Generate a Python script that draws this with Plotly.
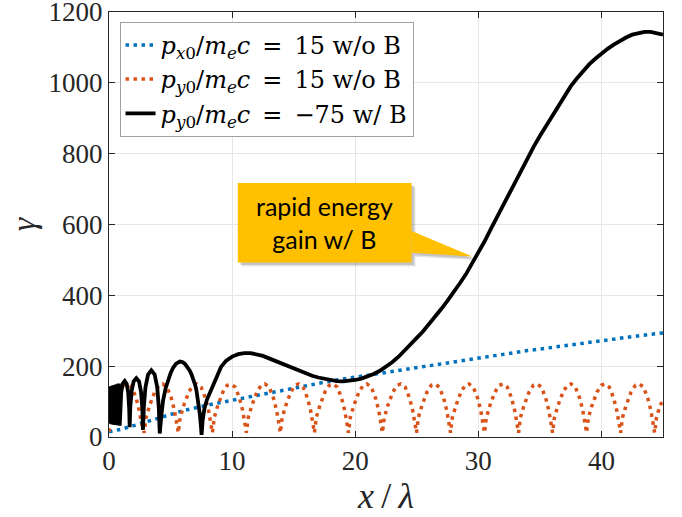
import plotly.graph_objects as go

# ---- electron energy vs. propagation distance ----
# p_x0 = 15, no B field
x_px = [0, 1, 2, 3, 4, 5, 6, 8, 10, 12, 14, 16, 18, 20, 22, 24, 26, 28, 30,
        32, 34, 36, 38, 40, 42, 44, 45]
g_px = [15, 22, 32, 42, 52, 63, 74, 90, 104, 118, 132, 146, 158, 169, 180, 191,
        202, 213, 224, 234, 244, 253, 263, 272, 281, 290, 294]

# p_y0 = 15, no B field (one row per oscillation arch)
x_py_arches = [
    [0.00, 0.15, 0.45, 0.85, 1.20, 1.50, 1.85, 2.20, 2.45, 2.62],
    [2.86, 3.01, 3.31, 3.71, 4.06, 4.36, 4.71, 5.06, 5.31, 5.48],
    [5.63, 5.78, 6.08, 6.48, 6.83, 7.13, 7.48, 7.83, 8.08, 8.25],
    [8.40, 8.55, 8.85, 9.25, 9.60, 9.90, 10.25, 10.60, 10.85, 11.02],
    [11.16, 11.31, 11.61, 12.01, 12.36, 12.66, 13.01, 13.36, 13.61, 13.78],
    [13.92, 14.07, 14.37, 14.77, 15.12, 15.42, 15.77, 16.12, 16.37, 16.54],
    [16.69, 16.84, 17.14, 17.54, 17.89, 18.19, 18.54, 18.89, 19.14, 19.31],
    [19.45, 19.60, 19.90, 20.30, 20.65, 20.95, 21.30, 21.65, 21.90, 22.07],
    [22.21, 22.36, 22.66, 23.06, 23.41, 23.71, 24.06, 24.41, 24.66, 24.83],
    [24.98, 25.13, 25.43, 25.83, 26.18, 26.48, 26.83, 27.18, 27.43, 27.60],
    [27.74, 27.89, 28.19, 28.59, 28.94, 29.24, 29.59, 29.94, 30.19, 30.36],
    [30.50, 30.65, 30.95, 31.35, 31.70, 32.00, 32.35, 32.70, 32.95, 33.12],
    [33.27, 33.42, 33.72, 34.12, 34.47, 34.77, 35.12, 35.47, 35.72, 35.89],
    [36.03, 36.18, 36.48, 36.88, 37.23, 37.53, 37.88, 38.23, 38.48, 38.65],
    [38.79, 38.94, 39.24, 39.64, 39.99, 40.29, 40.64, 40.99, 41.24, 41.41],
    [41.56, 41.71, 42.01, 42.41, 42.76, 43.06, 43.41, 43.76, 44.01, 44.18],
    [44.32, 44.47, 44.77, 45.00],
]
g_py_arches = [
    [15, 55, 90, 127, 146, 150, 141, 110, 76, 42],
    [12, 55, 90, 127, 146, 150, 141, 110, 76, 42],
    [12, 55, 90, 127, 146, 150, 141, 110, 76, 42],
    [12, 55, 90, 127, 146, 149, 141, 110, 76, 42],
    [12, 55, 90, 127, 146, 150, 141, 110, 76, 42],
    [12, 55, 90, 127, 146, 150, 141, 110, 76, 42],
    [12, 55, 90, 127, 146, 150, 141, 110, 76, 42],
    [12, 55, 90, 127, 146, 150, 141, 110, 76, 42],
    [12, 55, 90, 127, 146, 150, 141, 110, 76, 42],
    [12, 55, 90, 127, 146, 150, 141, 110, 76, 42],
    [12, 55, 90, 127, 146, 150, 141, 110, 76, 42],
    [12, 55, 90, 127, 146, 150, 141, 110, 76, 42],
    [12, 55, 90, 127, 146, 150, 141, 110, 76, 42],
    [12, 55, 90, 127, 146, 150, 141, 110, 76, 42],
    [12, 55, 90, 127, 146, 150, 141, 110, 76, 42],
    [12, 55, 90, 127, 146, 150, 141, 110, 76, 42],
    [12, 55, 90, 103],
]

# p_y0 = -75, with B field
x_b = [0.00, 0.05, 0.10, 0.16, 0.22, 0.29, 0.36, 0.44, 0.52, 0.60, 0.69, 0.78,
       0.87, 0.91, 0.99, 1.11, 1.28, 1.44, 1.56, 1.64,
       1.68, 1.73, 1.84, 2.00, 2.22, 2.44, 2.60, 2.71,
       2.76, 2.83, 2.96, 3.17, 3.44, 3.71, 3.92, 4.05,
       4.12, 4.25, 4.39, 4.60, 4.80, 5.00, 5.20, 5.45, 5.75, 6.00, 6.20, 6.40,
       6.56, 6.70, 6.85, 7.00, 7.10, 7.20, 7.30, 7.38, 7.45,
       7.52, 7.60, 7.75, 7.95, 8.20, 8.50, 8.80, 9.10, 9.50, 10.00, 10.50,
       11.00, 11.50, 12.00, 12.50, 13.00, 13.50, 14.00, 14.50, 15.00, 15.50,
       16.00, 16.50, 17.00, 17.50, 18.00, 18.50, 19.00, 19.50, 20.00, 20.50,
       21.00, 21.50, 22.00, 22.50, 23.00, 23.50, 24.00, 24.50, 25.00, 25.50,
       26.00, 26.50, 27.00, 27.50, 28.00, 28.50, 29.00, 29.50, 30.00, 30.50,
       31.00, 31.50, 32.00, 32.50, 33.00, 33.50, 34.00, 34.50, 35.00, 35.50,
       36.00, 36.50, 37.00, 37.50, 38.00, 38.50, 39.00, 39.50, 40.00, 40.50,
       41.00, 41.50, 42.00, 42.50, 43.00, 43.50, 44.00, 44.50, 45.00]
g_b = [76, 140, 38, 143, 36, 145, 35, 147, 34, 149, 33, 151,
       32, 85, 125, 150, 158, 150, 125, 80,
       28, 85, 130, 157, 166, 157, 128, 80,
       20, 85, 140, 176, 188, 176, 140, 80,
       10, 60, 103, 138, 160, 180, 195, 207, 213, 211, 205, 196,
       187, 177, 164, 147, 132, 113, 88, 64, 38,
       6, 45, 80, 105, 125, 150, 178, 198, 215, 227, 234,
       237, 237, 234, 229, 222, 215, 208, 200, 193, 186,
       179, 173, 168, 164, 160, 158, 157, 158, 161, 165,
       171, 178, 187, 198, 211, 226, 243, 262, 280, 298,
       318, 340, 362, 385, 408, 434, 460, 490, 520, 552,
       586, 620, 655, 690, 724, 757, 790, 820, 850, 878,
       908, 937, 964, 990, 1012, 1033, 1052, 1068, 1083, 1096,
       1108, 1119, 1128, 1136, 1141, 1144, 1144, 1140, 1136]

x_py = [v for row in x_py_arches for v in row]
g_py = [v for row in g_py_arches for v in row]

EQ = "\u2002=\u2002"
labels = [
    f"<i>p</i><sub><i>x</i>0</sub>/<i>m</i><sub><i>e</i></sub><i>c</i>{EQ}15 w/o B",
    f"<i>p</i><sub><i>y</i>0</sub>/<i>m</i><sub><i>e</i></sub><i>c</i>{EQ}15 w/o B",
    f"<i>p</i><sub><i>y</i>0</sub>/<i>m</i><sub><i>e</i></sub><i>c</i>{EQ}\u221275 w/ B",
]
x_ticks = [0, 10, 20, 30, 40]
y_ticks = [0, 200, 400, 600, 800, 1000, 1200]

BLUE = "#0072BD"
ORANGE = "#D95319"
SERIF = "Liberation Serif, Times New Roman, serif"

fig = go.Figure()
fig.add_trace(go.Scatter(x=x_px, y=g_px, mode="lines", name=labels[0],
                         line=dict(color=BLUE, width=3.5, dash="3.5px,4.5px")))
fig.add_trace(go.Scatter(x=x_py, y=g_py, mode="lines", name=labels[1],
                         line=dict(color=ORANGE, width=3.5, dash="3.5px,4.5px")))
fig.add_trace(go.Scatter(x=x_b, y=g_b, mode="lines", name=labels[2],
                         line=dict(color="black", width=3.8)))

# callout box pointing at the steep rise of the B-field curve
box = dict(x0=10.46, x1=24.58, y0=493, y1=717)
ptr = "M 24.58,582 L 29.5,510 L 24.58,520 Z"
px_x, px_y = 1 / 12.3, 2.82  # one screen pixel in data units
shapes = []
for k, a in [(4, 0.10), (2.5, 0.14)]:
    dx, dy = k * px_x, k * px_y
    shapes.append(dict(type="rect", xref="x", yref="y",
                       x0=box["x0"] + dx, x1=box["x1"] + dx,
                       y0=box["y0"] - dy, y1=box["y1"] - dy,
                       fillcolor=f"rgba(0,0,0,{a})", line=dict(width=0), layer="above"))
    shapes.append(dict(type="path", xref="x", yref="y",
                       path=f"M {24.58+dx},{582-dy} L {29.5+dx},{510-dy} L {24.58+dx},{520-dy} Z",
                       fillcolor=f"rgba(0,0,0,{a})", line=dict(width=0), layer="above"))
shapes.append(dict(type="rect", xref="x", yref="y", **box,
                   fillcolor="#FFC000", line=dict(width=0), layer="above"))
shapes.append(dict(type="path", xref="x", yref="y", path=ptr,
                   fillcolor="#FFC000", line=dict(width=0), layer="above"))

fig.update_layout(
    width=682, height=517,
    margin=dict(l=109, r=19, t=12, b=80),
    paper_bgcolor="white", plot_bgcolor="white",
    showlegend=True,
    legend=dict(x=0.019, y=0.977, xanchor="left", yanchor="top",
                bgcolor="white", bordercolor="#a0a0a0", borderwidth=1,
                font=dict(family="DejaVu Serif, serif", size=24, color="black"),
                tracegroupgap=0, itemwidth=30),
    shapes=shapes,
    annotations=[dict(x=(box["x0"] + box["x1"]) / 2, y=(box["y0"] + box["y1"]) / 2,
                      xref="x", yref="y", showarrow=False,
                      text="rapid energy<br>gain w/ B",
                      font=dict(family="Lato, Carlito, Calibri, sans-serif", size=25,
                                color="black"))],
)
axis_common = dict(showline=True, linecolor="#262626", linewidth=1, mirror="ticks",
                   ticks="inside", ticklen=6, tickcolor="#262626",
                   showgrid=True, gridcolor="#e6e6e6", gridwidth=1, zeroline=False,
                   ticklabeloverflow="allow", automargin=False,
                   tickfont=dict(family=SERIF, size=27, color="#262626"))
fig.update_xaxes(range=[0, 45], tickvals=x_ticks, **axis_common,
                 title=dict(text="<i>x</i>\u2009/\u2009<i>\u03bb</i>", standoff=2,
                            font=dict(family=SERIF, size=36, color="#262626")))
fig.update_yaxes(range=[0, 1200], tickvals=y_ticks, **axis_common,
                 title=dict(text="<i>\u03b3</i>", standoff=2,
                            font=dict(family=SERIF, size=34, color="#262626")))

fig.write_html("out.html")
